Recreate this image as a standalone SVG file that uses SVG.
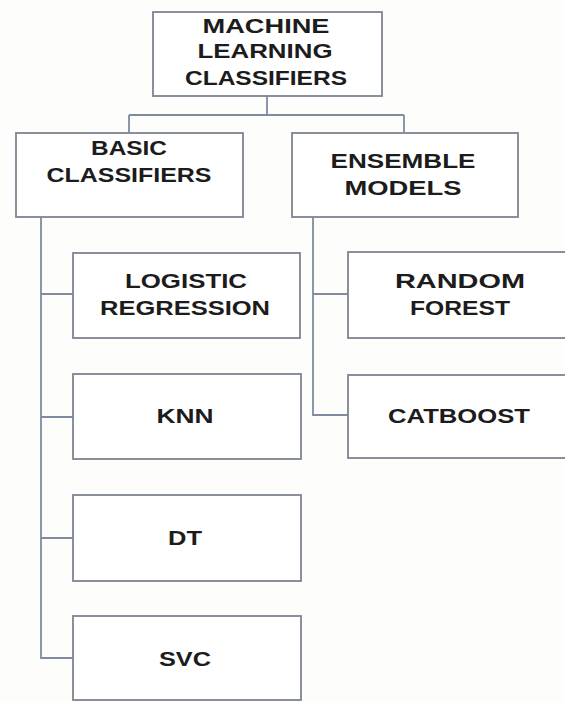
<svg xmlns="http://www.w3.org/2000/svg" width="565" height="702" viewBox="0 0 565 702">
<style>
.box{fill:#ffffff;stroke:#7d8491;stroke-width:1.8}
.con{fill:none;stroke:#7f8ca0;stroke-width:1.8}
text{font-family:"Liberation Sans","Open Sans",sans-serif;font-weight:bold;font-size:21px;fill:#1c1c1c;text-anchor:middle}
</style>
<rect x="0" y="0" width="565" height="702" fill="#fdfdfb"/>
<g id="connectors">
<path class="con" d="M267,96 V115 M129,115 H404 M129,115 V133 M404,115 V133"/>
<path class="con" d="M41,217 V658 H73 M41,294 H73 M41,417 H73 M41,538 H73"/>
<path class="con" d="M313,217 V415 H348 M313,294 H348"/>
</g>
<g id="root">
<rect class="box" x="153" y="12" width="229" height="84"/>
<text x="266" y="33" textLength="127" lengthAdjust="spacingAndGlyphs">MACHINE</text>
<text x="265" y="58" textLength="135" lengthAdjust="spacingAndGlyphs">LEARNING</text>
<text x="266" y="85" textLength="162" lengthAdjust="spacingAndGlyphs">CLASSIFIERS</text>
</g>
<g id="basic">
<rect class="box" x="16" y="133" width="227" height="84"/>
<text x="129" y="155" textLength="76" lengthAdjust="spacingAndGlyphs">BASIC</text>
<text x="129" y="182" textLength="165" lengthAdjust="spacingAndGlyphs">CLASSIFIERS</text>
</g>
<g id="ensemble">
<rect class="box" x="292" y="133" width="226" height="84"/>
<text x="403" y="168" textLength="145" lengthAdjust="spacingAndGlyphs">ENSEMBLE</text>
<text x="403" y="195" textLength="117" lengthAdjust="spacingAndGlyphs">MODELS</text>
</g>
<g id="logistic">
<rect class="box" x="73" y="253" width="227" height="85"/>
<text x="186" y="288" textLength="122" lengthAdjust="spacingAndGlyphs">LOGISTIC</text>
<text x="185" y="315" textLength="170" lengthAdjust="spacingAndGlyphs">REGRESSION</text>
</g>
<g id="knn">
<rect class="box" x="73" y="374" width="228" height="85"/>
<text x="185" y="423" textLength="57" lengthAdjust="spacingAndGlyphs">KNN</text>
</g>
<g id="dt">
<rect class="box" x="73" y="495" width="228" height="86"/>
<text x="185" y="545" textLength="34" lengthAdjust="spacingAndGlyphs">DT</text>
</g>
<g id="svc">
<rect class="box" x="73" y="616" width="228" height="84"/>
<text x="185" y="666" textLength="52" lengthAdjust="spacingAndGlyphs">SVC</text>
</g>
<g id="random-forest">
<rect class="box" x="348" y="252" width="224" height="86"/>
<text x="460" y="288" textLength="130" lengthAdjust="spacingAndGlyphs">RANDOM</text>
<text x="460" y="315" textLength="100" lengthAdjust="spacingAndGlyphs">FOREST</text>
</g>
<g id="catboost">
<rect class="box" x="348" y="375" width="224" height="83"/>
<text x="459" y="423" textLength="142" lengthAdjust="spacingAndGlyphs">CATBOOST</text>
</g>
</svg>
